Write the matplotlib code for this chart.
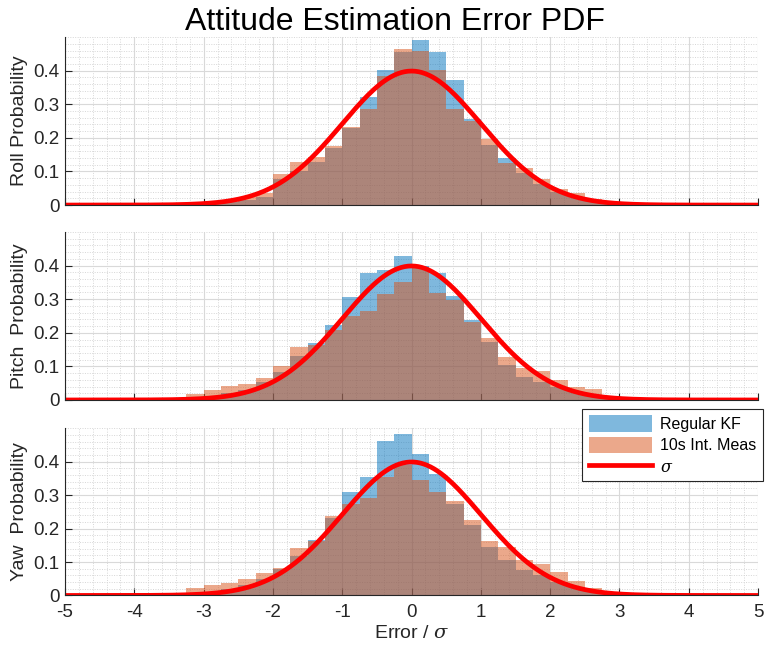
import numpy as np
import matplotlib.pyplot as plt
from matplotlib.patches import Patch
from matplotlib.lines import Line2D
from matplotlib.ticker import MultipleLocator

plt.rcParams['font.family'] = ['Liberation Sans', 'DejaVu Sans']
plt.rcParams['mathtext.fontset'] = 'dejavuserif'

# Histogram bins (left edges, width 0.25)
bin_left = np.arange(-3.5, 3.0, 0.25)
bin_width = 0.25

# Roll
roll_kf = [0, 0, 0.002, 0.010, 0.015, 0.025, 0.079, 0.100, 0.128, 0.171, 0.229, 0.321, 0.403,
           0.455, 0.490, 0.455, 0.373, 0.257, 0.178, 0.139, 0.096, 0.062, 0.040, 0.025, 0.012, 0.004]
roll_int = [0, 0.002, 0.004, 0.013, 0.025, 0.037, 0.091, 0.128, 0.143, 0.176, 0.232, 0.287, 0.383,
            0.465, 0.460, 0.403, 0.285, 0.249, 0.198, 0.124, 0.109, 0.077, 0.047, 0.035, 0.018, 0.006]

# Pitch
pitch_kf = [0.002, 0.003, 0.010, 0.020, 0.030, 0.054, 0.083, 0.130, 0.170, 0.224, 0.306, 0.377, 0.388,
            0.428, 0.400, 0.377, 0.309, 0.237, 0.172, 0.103, 0.069, 0.054, 0.039, 0.025, 0.014, 0.005]
pitch_int = [0.003, 0.017, 0.031, 0.043, 0.048, 0.066, 0.102, 0.157, 0.165, 0.209, 0.250, 0.265, 0.314,
             0.350, 0.395, 0.319, 0.297, 0.232, 0.184, 0.127, 0.096, 0.086, 0.059, 0.039, 0.032, 0.012]

# Yaw
yaw_kf = [0.001, 0.004, 0.010, 0.020, 0.030, 0.050, 0.080, 0.117, 0.166, 0.231, 0.309, 0.354, 0.463,
          0.483, 0.424, 0.363, 0.273, 0.212, 0.144, 0.107, 0.077, 0.061, 0.041, 0.025, 0.012, 0.004]
yaw_int = [0.003, 0.021, 0.031, 0.036, 0.048, 0.068, 0.083, 0.141, 0.163, 0.238, 0.273, 0.292, 0.354,
           0.389, 0.345, 0.310, 0.283, 0.226, 0.164, 0.144, 0.105, 0.093, 0.070, 0.044, 0.022, 0.008]

ylabels = ['Roll Probability', 'Pitch  Probability', 'Yaw  Probability']
kf_sets = [roll_kf, pitch_kf, yaw_kf]
int_sets = [roll_int, pitch_int, yaw_int]

blue = '#0072BD'
orange = '#D95319'
axis_col = '#262626'

# standard normal pdf for the sigma curve
x_pdf = np.linspace(-5, 5, 401)
y_pdf = np.exp(-0.5 * x_pdf ** 2) / np.sqrt(2 * np.pi)

fig = plt.figure(figsize=(7.65, 6.51), dpi=100)
positions = [[0.085, 0.685, 0.906, 0.258],
             [0.085, 0.3856, 0.906, 0.258],
             [0.085, 0.0853, 0.906, 0.257]]

for i in range(3):
    ax = fig.add_axes(positions[i])
    ax.set_axisbelow(True)
    ax.bar(bin_left, kf_sets[i], width=bin_width, align='edge', color=blue, alpha=0.5, linewidth=0)
    ax.bar(bin_left, int_sets[i], width=bin_width, align='edge', color=orange, alpha=0.5, linewidth=0)
    ax.plot(x_pdf, y_pdf, color='red', lw=3.4, solid_capstyle='butt')

    ax.set_xlim(-5, 5)
    ax.set_ylim(0, 0.5)
    ax.set_yticks([0, 0.1, 0.2, 0.3, 0.4])
    ax.set_yticklabels(['0', '0.1', '0.2', '0.3', '0.4'])
    ax.set_xticks(range(-5, 6))
    ax.xaxis.set_minor_locator(MultipleLocator(0.2))
    ax.yaxis.set_minor_locator(MultipleLocator(0.02))
    ax.grid(True, which='major', color='#d9d9d9', lw=0.8, ls='-')
    ax.grid(True, which='minor', color='#d6d6d6', lw=0.7, ls=(0, (1, 1.5)))

    for s in ['top', 'right']:
        ax.spines[s].set_visible(False)
    for s in ['left', 'bottom']:
        ax.spines[s].set_color(axis_col)
        ax.spines[s].set_linewidth(0.8)
    ax.tick_params(which='major', direction='in', length=5, width=0.8, color=axis_col,
                   labelsize=13.5, labelcolor=axis_col)
    ax.tick_params(axis='y', pad=4)
    ax.tick_params(axis='x', pad=6)
    ax.tick_params(which='minor', length=0)
    ax.set_ylabel(ylabels[i], fontsize=14, color=axis_col)
    ax.yaxis.set_label_coords(-0.053, 0.5)

    if i < 2:
        ax.tick_params(labelbottom=False)
    else:
        ax.set_xticklabels([str(t) for t in range(-5, 6)])
        ax.set_xlabel(r'Error / $\sigma$', fontsize=14, color=axis_col, labelpad=3)
    if i == 0:
        ax.set_title('Attitude Estimation Error PDF', fontsize=23, x=0.476, pad=3)

handles = [Patch(facecolor=blue, alpha=0.5, edgecolor='none'),
           Patch(facecolor=orange, alpha=0.5, edgecolor='none'),
           Line2D([0], [0], color='red', lw=3.4)]
labels = ['Regular KF', '10s Int. Meas', r'$\sigma$']
leg = fig.legend(handles, labels, loc='upper left', bbox_to_anchor=(0.761, 0.372),
                 borderaxespad=0, fontsize=11.5, frameon=True, fancybox=False, framealpha=1,
                 edgecolor=axis_col, handlelength=4.0, handleheight=1.2,
                 borderpad=0.4, labelspacing=0.3, handletextpad=0.5)
leg.get_frame().set_linewidth(0.8)

plt.savefig('out.png', dpi=100)
